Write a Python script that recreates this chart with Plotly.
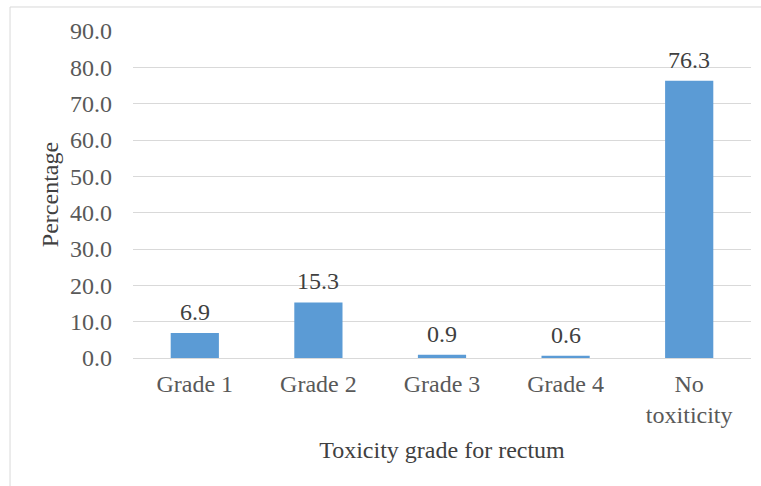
import plotly.graph_objects as go

categories = ["Grade 1", "Grade 2", "Grade 3", "Grade 4", "No<br>toxiticity"]
values = [6.9, 15.3, 0.9, 0.6, 76.3]
y_ticks = [0, 10, 20, 30, 40, 50, 60, 70, 80, 90]

FONT = "Liberation Serif, Times New Roman, serif"
TEXT = "#595959"
DARK = "#404040"

fig = go.Figure(
    go.Bar(
        x=categories,
        y=values,
        marker=dict(color="#5B9BD5", line=dict(width=0)),
        cliponaxis=False,
    )
)

# value labels above each bar
for cat, v in zip(categories, values):
    fig.add_annotation(
        x=cat,
        y=v,
        text=f"{v:.1f}",
        showarrow=False,
        yanchor="bottom",
        yshift=6,
        font=dict(family=FONT, size=24, color=DARK),
    )

fig.update_layout(
    width=761,
    height=486,
    margin=dict(l=133, r=10, t=31, b=128),
    paper_bgcolor="white",
    plot_bgcolor="white",
    bargap=0.61,
    showlegend=False,
    font=dict(family=FONT, size=24, color=TEXT),
    xaxis=dict(
        title=dict(text="Toxicity grade for rectum", font=dict(family=FONT, size=24, color=DARK), standoff=14),
        showgrid=False,
        showline=True,
        linecolor="#d9d9d9",
        linewidth=1,
        ticks="",
        ticklabelstandoff=4,
        tickfont=dict(family=FONT, size=24, color=TEXT),
    ),
    yaxis=dict(
        title=dict(text="Percentage", font=dict(family=FONT, size=24, color=DARK), standoff=4),
        range=[0, 90],
        tickvals=y_ticks,
        ticktext=[f"{t:.1f}" for t in y_ticks],
        tickfont=dict(family=FONT, size=24, color=TEXT),
        showgrid=True,
        gridcolor="#d9d9d9",
        gridwidth=1,
        zeroline=False,
        ticks="",
        ticklabelstandoff=20,
    ),
    shapes=[
        dict(
            type="rect",
            xref="paper",
            yref="paper",
            x0=-0.199,
            x1=1.05,
            y0=-0.6,
            y1=1.0734,
            line=dict(color="#d9d9d9", width=1),
            fillcolor="rgba(0,0,0,0)",
            layer="below",
        )
    ],
)

fig.write_html("out.html")
